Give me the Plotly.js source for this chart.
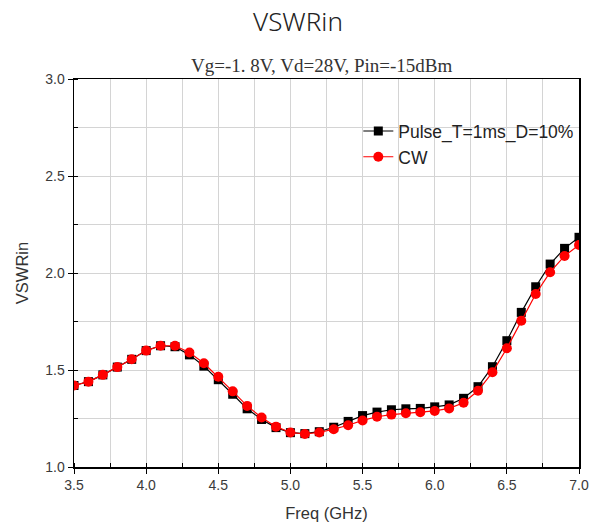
<!DOCTYPE html>
<html>
<head>
<meta charset="utf-8">
<script src="https://cdn.plot.ly/plotly-3.0.1.min.js"></script>
<style>
  html, body { margin: 0; padding: 0; background: #fff; }
  #chart { width: 596px; height: 528px; }
</style>
</head>
<body>
<div id="chart"></div>
<script>
// Input VSWR vs frequency, 3.5–7.0 GHz in 0.1 GHz steps
const freq = [3.5, 3.6, 3.7, 3.8, 3.9, 4.0, 4.1, 4.2, 4.3, 4.4, 4.5, 4.6,
              4.7, 4.8, 4.9, 5.0, 5.1, 5.2, 5.3, 5.4, 5.5, 5.6, 5.7, 5.8,
              5.9, 6.0, 6.1, 6.2, 6.3, 6.4, 6.5, 6.6, 6.7, 6.8, 6.9, 7.0];

const pulse = [1.42, 1.44, 1.475, 1.515, 1.555, 1.60, 1.625, 1.62, 1.578, 1.52, 1.45, 1.375,
               1.30, 1.245, 1.203, 1.177, 1.172, 1.182, 1.205, 1.235, 1.265, 1.283, 1.295, 1.30,
               1.302, 1.31, 1.32, 1.354, 1.414, 1.517, 1.651, 1.797, 1.929, 2.046, 2.127, 2.184];

const cw = [1.42, 1.44, 1.475, 1.515, 1.555, 1.60, 1.625, 1.625, 1.59, 1.535, 1.465, 1.39,
            1.315, 1.255, 1.208, 1.178, 1.17, 1.178, 1.195, 1.215, 1.24, 1.259, 1.27, 1.277,
            1.282, 1.289, 1.302, 1.331, 1.393, 1.488, 1.612, 1.754, 1.892, 2.004, 2.088, 2.144];

const seriesNames = ['Pulse_T=1ms_D=10%', 'CW'];
const xTicks = [3.5, 4.0, 4.5, 5.0, 5.5, 6.0, 6.5, 7.0];
const yTicks = [1.0, 1.5, 2.0, 2.5, 3.0];

const tickFont = { family: 'Liberation Sans, Arial, sans-serif', size: 14, color: '#3a3a3a' };
const axisTitleFont = { family: 'Liberation Sans, Arial, sans-serif', size: 16.5, color: '#333' };
const gridColor = '#d4d4d4';

const traces = [
  {
    x: freq, y: pulse, name: seriesNames[0], type: 'scatter', mode: 'lines+markers',
    line: { color: '#000000', width: 1.2 },
    marker: { symbol: 'square', size: 9, color: '#000000' }
  },
  {
    x: freq, y: cw, name: seriesNames[1], type: 'scatter', mode: 'lines+markers',
    line: { color: '#ff0000', width: 1.2 },
    marker: { symbol: 'circle', size: 10, color: '#ff0000' }
  }
];

const layout = {
  width: 596, height: 528,
  margin: { l: 74, r: 17, t: 79, b: 61 },
  paper_bgcolor: '#ffffff', plot_bgcolor: '#ffffff',
  showlegend: true,
  title: {
    text: 'VSWRin', xref: 'container', x: 0.5, xanchor: 'center',
    yref: 'container', y: 0.958, yanchor: 'middle',
    font: { family: 'Noto Sans, sans-serif', size: 26, color: '#222', weight: 300 }
  },
  xaxis: {
    range: [3.5, 7.0], tickvals: xTicks, ticktext: xTicks.map(v => v.toFixed(1)),
    ticks: 'outside', ticklen: 5, tickcolor: '#000', tickwidth: 1,
    showline: true, linecolor: '#000', linewidth: 1.5, mirror: true,
    showgrid: true, gridcolor: gridColor, gridwidth: 1, zeroline: false,
    minor: { dtick: 0.25, tick0: 3.5, ticks: 'inside', ticklen: 4, tickcolor: '#000', showgrid: true, gridcolor: gridColor },
    tickfont: tickFont,
    title: { text: 'Freq (GHz)', font: axisTitleFont, standoff: 15 }
  },
  yaxis: {
    range: [1.0, 3.0], tickvals: yTicks, ticktext: yTicks.map(v => v.toFixed(1)),
    ticks: 'outside', ticklen: 5, tickcolor: '#000', tickwidth: 1,
    showline: true, linecolor: '#000', linewidth: 1.5, mirror: true,
    showgrid: true, gridcolor: gridColor, gridwidth: 1, zeroline: false,
    minor: { dtick: 0.25, tick0: 1.0, ticks: 'inside', ticklen: 4, tickcolor: '#000', showgrid: true, gridcolor: gridColor },
    tickfont: tickFont,
    title: { text: 'VSWRin', font: axisTitleFont, standoff: 12 }
  },
  legend: {
    x: 0.563, xanchor: 'left', y: 0.912, yanchor: 'top',
    bgcolor: 'rgba(0,0,0,0)', borderwidth: 0,
    font: { family: 'Liberation Sans, Arial, sans-serif', size: 17.5, color: '#222' },
    tracegroupgap: 0, itemwidth: 30
  },
  annotations: [
    {
      text: 'Vg=-1. 8V, Vd=28V, Pin=-15dBm', xref: 'paper', yref: 'paper',
      x: 0.49, y: 1.034, xanchor: 'center', yanchor: 'middle', showarrow: false,
      font: { family: 'Liberation Serif, Times New Roman, serif', size: 19, color: '#333' }
    }
  ]
};

Plotly.newPlot('chart', traces, layout, { displayModeBar: false, staticPlot: true });
</script>
</body>
</html>
